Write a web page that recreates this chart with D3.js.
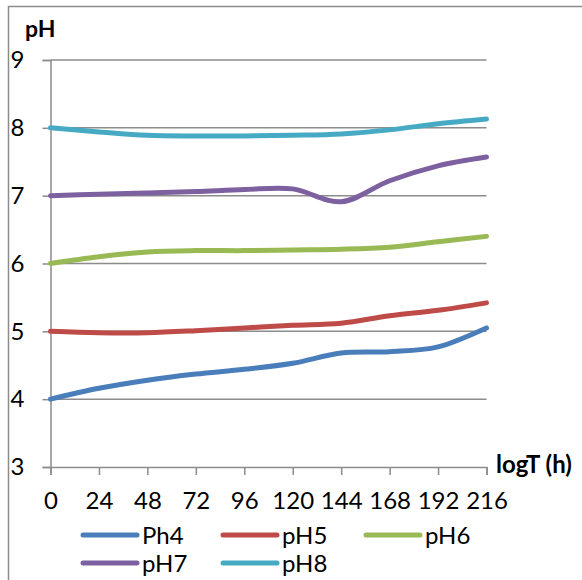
<!DOCTYPE html>
<html>
<head>
<meta charset="utf-8">
<script src="https://cdn.jsdelivr.net/npm/d3@7"></script>
<style>
  html, body { margin: 0; padding: 0; background: #fff; }
  svg { display: block; font-family: Lato, "Liberation Sans", sans-serif; }
</style>
</head>
<body>
<svg id="chart" width="582" height="580"></svg>
<script>
// Sampling times (h)
const hours = [0, 24, 48, 72, 96, 120, 144, 168, 192, 216];
// pH readings for each starting pH
const ph4 = [4.0, 4.16, 4.28, 4.37, 4.44, 4.53, 4.68, 4.70, 4.77, 5.05];
const ph5 = [5.0, 4.98, 4.98, 5.01, 5.05, 5.09, 5.12, 5.23, 5.31, 5.42];
const ph6 = [6.0, 6.10, 6.17, 6.19, 6.19, 6.20, 6.21, 6.24, 6.32, 6.40];
const ph7 = [7.0, 7.02, 7.04, 7.06, 7.09, 7.10, 6.91, 7.22, 7.44, 7.57];
const ph8 = [8.0, 7.94, 7.89, 7.88, 7.88, 7.89, 7.91, 7.97, 8.06, 8.13];
const seriesNames = ["Ph4", "pH5", "pH6", "pH7", "pH8"];
const seriesColors = ["#4a7ebb", "#be4b48", "#98b954", "#7d60a0", "#46aac5"];
const yTicks = [3, 4, 5, 6, 7, 8, 9];

const series = [ph4, ph5, ph6, ph7, ph8].map((vals, i) => ({
  name: seriesNames[i],
  color: seriesColors[i],
  points: vals.map((v, j) => ({ t: hours[j], v }))
}));

const svg = d3.select("#chart");
const gridColor = "#8c8c8c";
const labelSize = 24;

// Outer frame
svg.append("rect")
  .attr("x", 8.5).attr("y", 6.5)
  .attr("width", 600).attr("height", 600)
  .attr("fill", "none").attr("stroke", gridColor).attr("stroke-width", 1.5);

const x = d3.scaleLinear().domain([0, 216]).range([50.5, 486.5]);
const y = d3.scaleLinear().domain([3, 9]).range([467, 60]);

// Horizontal gridlines
svg.append("g")
  .selectAll("line")
  .data(yTicks.slice(1))
  .join("line")
  .attr("x1", x(0)).attr("x2", x(216))
  .attr("y1", d => y(d)).attr("y2", d => y(d))
  .attr("stroke", gridColor).attr("stroke-width", 1.5);

// Y axis
const yAxis = svg.append("g")
  .attr("transform", `translate(${x(0)},0)`)
  .call(d3.axisLeft(y).tickValues(yTicks).tickSize(8).tickPadding(18).tickFormat(d3.format("d")));
yAxis.select(".domain").attr("stroke", gridColor).attr("stroke-width", 1.5);
yAxis.selectAll(".tick line").attr("stroke", gridColor).attr("stroke-width", 1.5);
yAxis.selectAll(".tick text")
  .attr("font-family", "Lato, sans-serif").attr("font-size", labelSize).attr("fill", "#000");

// X axis
const xAxis = svg.append("g")
  .attr("transform", `translate(0,${y(3)})`)
  .call(d3.axisBottom(x).tickValues(hours).tickSize(8).tickPadding(17).tickFormat(d3.format("d")));
xAxis.select(".domain").attr("stroke", gridColor).attr("stroke-width", 1.5);
xAxis.selectAll(".tick line").attr("stroke", gridColor).attr("stroke-width", 1.5);
xAxis.selectAll(".tick text")
  .attr("font-family", "Lato, sans-serif").attr("font-size", labelSize).attr("fill", "#000");

// Axis titles
svg.append("text")
  .attr("x", 25).attr("y", 37)
  .attr("font-size", 23).attr("font-weight", "bold")
  .text("pH");
svg.append("text")
  .attr("x", 496).attr("y", 473)
  .attr("font-size", 24).attr("font-weight", "bold")
  .text("logT (h)");

// Series lines
const line = d3.line()
  .x(d => x(d.t))
  .y(d => y(d.v))
  .curve(d3.curveCatmullRom.alpha(0));

svg.append("g")
  .selectAll("path")
  .data(series)
  .join("path")
  .attr("d", d => line(d.points))
  .attr("fill", "none")
  .attr("stroke", d => d.color)
  .attr("stroke-width", 5)
  .attr("stroke-linecap", "round")
  .attr("stroke-linejoin", "round");

// Legend: three items per row
const legendCols = [83, 223, 366];
const legendRows = [535, 563];
const legend = svg.append("g")
  .selectAll("g")
  .data(series)
  .join("g")
  .attr("transform", (d, i) => `translate(${legendCols[i % 3]},${legendRows[Math.floor(i / 3)]})`);
legend.append("line")
  .attr("x1", 0).attr("x2", 54)
  .attr("stroke", d => d.color).attr("stroke-width", 5).attr("stroke-linecap", "round");
legend.append("text")
  .attr("x", 59).attr("dy", "0.36em")
  .attr("font-size", labelSize)
  .text(d => d.name);
</script>
</body>
</html>
